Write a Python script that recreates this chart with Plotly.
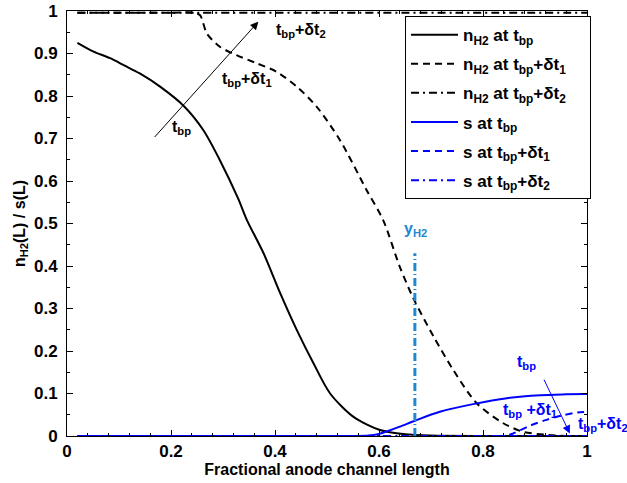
import plotly.graph_objects as go

# ---------------- data ----------------
x_n_bp = [0.02, 0.05, 0.083, 0.11, 0.14, 0.179, 0.225, 0.262, 0.294, 0.329, 0.346, 0.378,
          0.41, 0.442, 0.474, 0.506, 0.551, 0.602, 0.65, 0.70, 0.80, 0.90, 1.0]
y_n_bp = [0.925, 0.905, 0.889, 0.872, 0.853, 0.822, 0.776, 0.72, 0.649, 0.559, 0.508, 0.43,
          0.336, 0.249, 0.171, 0.10, 0.045, 0.014, 0.004, 0.001, 0.0, 0.0, 0.0]

x_n_d1 = [0.02, 0.10, 0.20, 0.245, 0.256, 0.269, 0.294, 0.326, 0.365, 0.403, 0.442, 0.48,
          0.525, 0.576, 0.608, 0.64, 0.666, 0.705, 0.743, 0.788, 0.839, 0.877, 0.92, 0.96, 1.0]
y_n_d1 = [0.996, 0.996, 0.996, 0.996, 0.99, 0.947, 0.916, 0.896, 0.877, 0.857, 0.822, 0.775,
          0.696, 0.579, 0.508, 0.398, 0.324, 0.234, 0.155, 0.077, 0.03, 0.01, 0.003, 0.0, 0.0]

x_n_d2 = [0.02, 0.25, 0.5, 0.75, 1.0]
y_n_d2 = [0.996, 0.996, 0.996, 0.996, 0.996]

x_s_bp = [0.02, 0.3, 0.55, 0.58, 0.60, 0.62, 0.64, 0.669, 0.717, 0.781, 0.846, 0.91, 0.96, 1.0]
y_s_bp = [0.0, 0.0, 0.0, 0.001, 0.005, 0.013, 0.022, 0.036, 0.057, 0.075, 0.089, 0.096, 0.098, 0.099]

x_s_d1 = [0.02, 0.4, 0.84, 0.858, 0.89, 0.922, 0.954, 0.98, 1.0]
y_s_d1 = [0.0, 0.0, 0.0, 0.006, 0.024, 0.038, 0.049, 0.055, 0.057]

x_s_d2 = [0.02, 0.5, 1.0]
y_s_d2 = [0.0, 0.0, 0.0]

y_h2_x = [0.669, 0.669]
y_h2_y = [0.0, 0.43]

x_ticks = [0, 0.2, 0.4, 0.6, 0.8, 1]
y_ticks = [0, 0.1, 0.2, 0.3, 0.4, 0.5, 0.6, 0.7, 0.8, 0.9, 1]

FONT = "Liberation Sans, Arial, sans-serif"
BLUE = "#0000ff"
CYAN = "#1e88d2"
DASH = "7px,5px"
DASHDOT = "8px,4px,2px,4px"
PAD = "&nbsp;" * 4

series = [
    (x_n_bp, y_n_bp, "black", "solid", "n<sub>H2</sub> at t<sub>bp</sub>"),
    (x_n_d1, y_n_d1, "black", DASH, "n<sub>H2</sub> at t<sub>bp</sub>+δt<sub>1</sub>"),
    (x_n_d2, y_n_d2, "black", DASHDOT, "n<sub>H2</sub> at t<sub>bp</sub>+δt<sub>2</sub>"),
    (x_s_bp, y_s_bp, BLUE, "solid", "s at t<sub>bp</sub>"),
    (x_s_d1, y_s_d1, BLUE, DASH, "s at t<sub>bp</sub>+δt<sub>1</sub>"),
    (x_s_d2, y_s_d2, BLUE, DASHDOT, "s at t<sub>bp</sub>+δt<sub>2</sub>"),
]

fig = go.Figure()
for i, (xs, ys, col, dash, name) in enumerate(series):
    fig.add_trace(go.Scatter(x=xs, y=ys, mode="lines", name="<b>" + name + "</b>" + PAD,
                             line=dict(color=col, width=2, dash=dash, shape="spline", smoothing=0.8),
                             legendgroup=f"g{i}"))

fig.add_trace(go.Scatter(x=y_h2_x, y=y_h2_y, mode="lines", showlegend=False,
                         line=dict(color=CYAN, width=3, dash="8px,3px,1px,3px")))

FS = 16
ann_font = dict(family=FONT, size=FS, color="black")
ann_blue = dict(family=FONT, size=FS, color=BLUE)
annotations = [
    # black arrow
    dict(x=0.368, y=0.975, ax=0.166, ay=0.70, xref="x", yref="y", axref="x", ayref="y",
         showarrow=True, arrowhead=2, arrowsize=1.6, arrowwidth=1, arrowcolor="black", text=""),
    dict(x=0.221, y=0.725, text="<b>t<sub>bp</sub></b>", showarrow=False, font=ann_font),
    dict(x=0.346, y=0.838, text="<b>t<sub>bp</sub>+δt<sub>1</sub></b>", showarrow=False, font=ann_font),
    dict(x=0.45, y=0.953, text="<b>t<sub>bp</sub>+δt<sub>2</sub></b>", showarrow=False, font=ann_font),
    # blue arrow
    dict(x=0.967, y=0.006, ax=0.916, ay=0.136, xref="x", yref="y", axref="x", ayref="y",
         showarrow=True, arrowhead=2, arrowsize=1.6, arrowwidth=1, arrowcolor=BLUE, text=""),
    dict(x=0.883, y=0.172, text="<b>t<sub>bp</sub></b>", showarrow=False, font=ann_blue),
    dict(x=0.89, y=0.061, text="<b>t<sub>bp</sub> +δt<sub>1</sub></b>", showarrow=False, font=ann_blue),
    dict(x=1.03, y=0.028, xref="paper", yref="y", xanchor="center",
         text="<b>t<sub>bp</sub>+δt<sub>2</sub></b>", showarrow=False, font=ann_blue),
    # y_H2 label
    dict(x=0.67, y=0.485, text="<b>y<sub>H2</sub></b>", showarrow=False,
         font=dict(family=FONT, size=FS, color=CYAN)),
]

axis_common = dict(showline=True, linecolor="black", linewidth=1, mirror="allticks",
                   ticks="inside", ticklen=6, tickcolor="black", showgrid=False,
                   zeroline=False, automargin=False, ticklabeloverflow="allow",
                   tickfont=dict(family=FONT, size=17, color="black"))

fig.update_layout(
    width=627, height=483,
    margin=dict(l=67, r=40, t=11, b=47),
    paper_bgcolor="white", plot_bgcolor="white",
    font=dict(family=FONT, size=FS, color="black"),
    xaxis=dict(range=[0, 1], tickvals=x_ticks, ticktext=[f"<b>{v:g}</b>" for v in x_ticks],
               minor=dict(dtick=0.04, ticks="inside", ticklen=3, tickcolor="black"),
               title=dict(text="<b>Fractional anode channel length</b>", standoff=2,
                          font=dict(family=FONT, size=FS)),
               **axis_common),
    yaxis=dict(range=[0, 1], tickvals=y_ticks, ticktext=[f"<b>{v:g}</b>" for v in y_ticks],
               minor=dict(dtick=0.05, ticks="inside", ticklen=3, tickcolor="black"),
               ticklabelstandoff=5,
               title=dict(text="<b>n<sub>H2</sub>(L) / s(L)</b>", standoff=4,
                          font=dict(family=FONT, size=FS)),
               **axis_common),
    legend=dict(x=0.65, y=0.988, xanchor="left", yanchor="top",
                bordercolor="black", borderwidth=1, bgcolor="white",
                font=dict(family=FONT, size=17, color="black"),
                itemwidth=47, tracegroupgap=4),
    annotations=annotations,
    showlegend=True,
)

fig.write_html("out.html", config={"displayModeBar": False},
               post_script="document.body.style.margin='0px';")
